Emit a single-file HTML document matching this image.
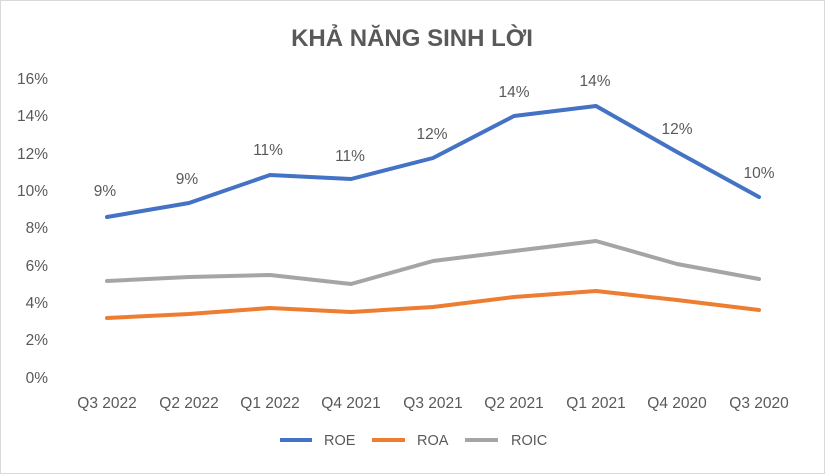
<!DOCTYPE html>
<html><head><meta charset="utf-8"><style>body{margin:0;background:#fff}svg{display:block}text{font-family:"Liberation Sans",sans-serif;fill:#595959}</style></head>
<body><svg width="825" height="474" viewBox="0 0 825 474">
<rect x="0.5" y="0.5" width="824" height="473" fill="#fff" stroke="#d9d9d9"/>
<text x="412" y="46" text-anchor="middle" font-size="24" font-weight="bold">KHẢ NĂNG SINH LỜI</text>
<g font-size="15.5" text-anchor="end">
<text x="48" y="84">16%</text><text x="48" y="121">14%</text><text x="48" y="159">12%</text><text x="48" y="196">10%</text><text x="48" y="233">8%</text><text x="48" y="271">6%</text><text x="48" y="308">4%</text><text x="48" y="345">2%</text><text x="48" y="383">0%</text></g>
<g font-size="15.5" text-anchor="middle">
<text x="107" y="408">Q3 2022</text><text x="189" y="408">Q2 2022</text><text x="270" y="408">Q1 2022</text><text x="351" y="408">Q4 2021</text><text x="433" y="408">Q3 2021</text><text x="514" y="408">Q2 2021</text><text x="596" y="408">Q1 2021</text><text x="677" y="408">Q4 2020</text><text x="759" y="408">Q3 2020</text></g>
<g fill="none" stroke-width="4" stroke-linejoin="round" stroke-linecap="round">
<polyline stroke="#4472c4" points="107,217 189,203 270,175 351,179 433,158 514,116 596,106 677,152 759,197"/>
<polyline stroke="#ed7d31" points="107,318 189,314 270,308 351,312 433,307 514,297 596,291 677,300 759,310"/>
<polyline stroke="#a5a5a5" points="107,281 189,277 270,275 351,284 433,261 514,251 596,241 677,264 759,279"/>
</g>
<g font-size="15.5" text-anchor="middle">
<text x="105" y="196">9%</text><text x="187" y="184">9%</text><text x="268" y="155">11%</text><text x="350" y="161">11%</text><text x="432" y="139">12%</text><text x="514" y="97">14%</text><text x="595" y="86">14%</text><text x="677" y="134">12%</text><text x="759" y="178">10%</text></g>
<g stroke-width="4"><line x1="280" y1="440" x2="312" y2="440" stroke="#4472c4"/><line x1="372" y1="440" x2="405" y2="440" stroke="#ed7d31"/><line x1="465" y1="440" x2="498" y2="440" stroke="#a5a5a5"/></g>
<g font-size="14.5"><text x="324" y="445">ROE</text><text x="417" y="445">ROA</text><text x="511" y="445">ROIC</text></g>
</svg></body></html>
